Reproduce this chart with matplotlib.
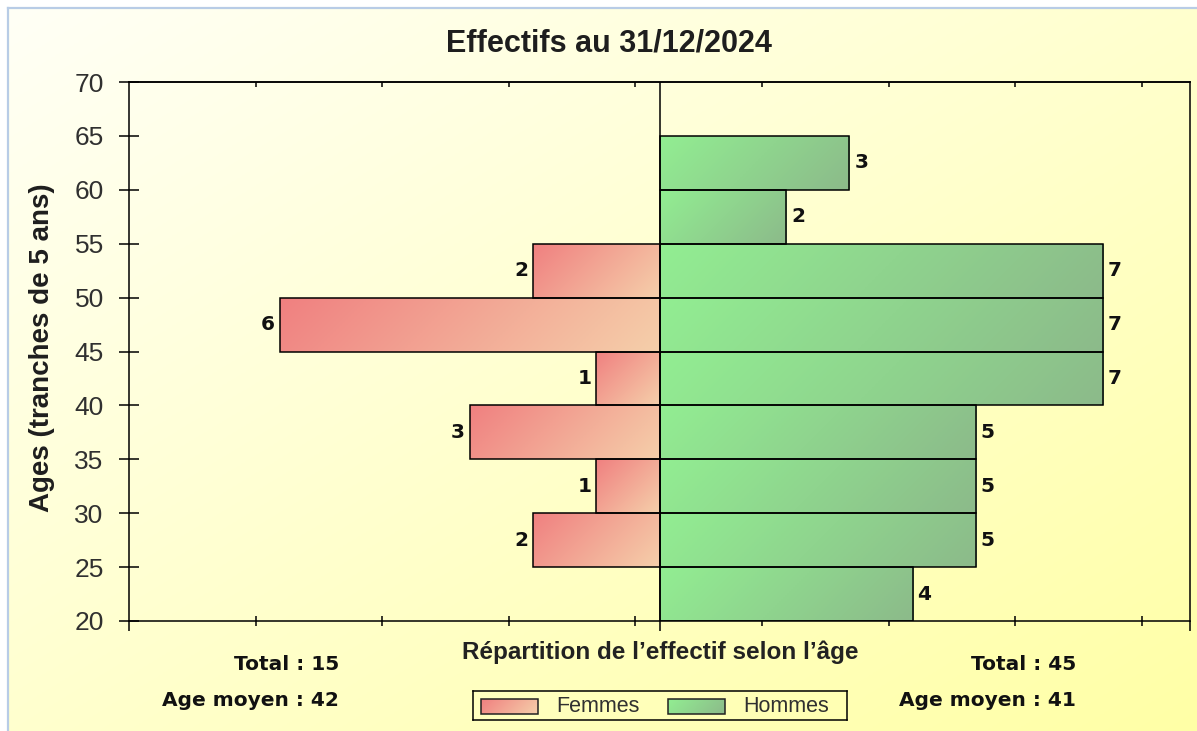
import numpy as np
import matplotlib
matplotlib.use('Agg')
import matplotlib.pyplot as plt
from matplotlib.lines import Line2D
from matplotlib.patches import Rectangle

W, H = 1197, 731

# age groups (start of each 5-year band) and counts
age_starts = [20, 25, 30, 35, 40, 45, 50, 55, 60]
femmes = [0, 2, 1, 3, 1, 6, 2, 0, 0]
hommes = [4, 5, 5, 5, 7, 7, 7, 2, 3]
age_moyen_f = 42
age_moyen_h = 41
y_ticks = [20, 25, 30, 35, 40, 45, 50, 55, 60, 65, 70]

FEM_C0, FEM_C1 = '#F08080', '#F5CFAA'
HOM_C0, HOM_C1 = '#92EE92', '#8CBA8A'
ARIAL = 'Liberation Sans'
TAHOMA = 'DejaVu Sans'


def fx(px):
    return px / W


def fy(py):
    return 1 - py / H


def gradient(c0, c1, wpx=1.0, hpx=1.0, n=64):
    # 45 degree gradient in pixel space, top-left -> bottom-right
    c0 = np.array(matplotlib.colors.to_rgb(c0))
    c1 = np.array(matplotlib.colors.to_rgb(c1))
    u = np.linspace(0, 1, n)
    t = (u[None, :] * wpx + u[:, None] * hpx) / (wpx + hpx)
    return c0 * (1 - t[..., None]) + c1 * t[..., None]


fig = plt.figure(figsize=(W / 100, H / 100), dpi=100)
fig.patch.set_facecolor('white')

# background gradient
bg = fig.add_axes([fx(9), 0, 1 - fx(9), fy(9)])
bg.imshow(gradient('#FFFFF6', '#FFFFA6', n=256), aspect='auto', extent=[0, 1, 0, 1], origin='upper')
bg.set_axis_off()
fig.add_artist(Line2D([fx(8), fx(8)], [0, fy(8)], color='#B8CCE6', lw=1.6))
fig.add_artist(Line2D([fx(8), 1], [fy(8), fy(8)], color='#B8CCE6', lw=1.6))

ax = fig.add_axes([fx(129), fy(621), fx(1190) - fx(129), fy(82) - fy(621)])
ax.set_facecolor('none')

L = 8.38
px_x = (1190 - 129) / (2 * L)
px_y = (621 - 82) / 50
bars_f = ax.barh(age_starts, [-v for v in femmes], height=5, align='edge',
                 facecolor='none', edgecolor='black', linewidth=1.1, zorder=3)
bars_h = ax.barh(age_starts, hommes, height=5, align='edge',
                 facecolor='none', edgecolor='black', linewidth=1.1, zorder=3)

for bars, vals, c0, c1, side in [(bars_f, femmes, FEM_C0, FEM_C1, -1),
                                 (bars_h, hommes, HOM_C0, HOM_C1, 1)]:
    for p, v in zip(bars, vals):
        if v == 0:
            p.set_visible(False)
            continue
        x0 = min(p.get_x(), p.get_x() + p.get_width())
        x1 = max(p.get_x(), p.get_x() + p.get_width())
        y0, y1 = p.get_y(), p.get_y() + p.get_height()
        g = gradient(c0, c1, (x1 - x0) * px_x, (y1 - y0) * px_y, n=128)
        im = ax.imshow(g, extent=[x0, x1, y0, y1], origin='upper',
                       aspect='auto', zorder=2)
        im.set_clip_path(p)
        ax.annotate(str(v), (side * v, y0 + 2.5), xytext=(side * 3.5, 0),
                    textcoords='offset points', va='center',
                    ha='left' if side > 0 else 'right',
                    fontsize=14.5, fontweight='bold', family=TAHOMA, color='#111111')

ax.axvline(0, color='black', lw=1.1, zorder=4)
ax.set_xlim(-L, L)
ax.set_ylim(20, 70)

xt = [-L + 2 * k for k in range(1, 9)]
ax.set_xticks(xt)
ax.set_xticklabels([])
ax.set_xticks([-L, 0, L], minor=True)
ax.tick_params(axis='x', which='major', direction='inout', length=7.2, width=1.1)
ax.tick_params(axis='x', which='minor', direction='out', length=7.2, width=1.1)
ax.set_yticks(y_ticks)
ax.tick_params(axis='y', which='major', direction='inout', length=14.4, width=1.1,
               pad=11, labelsize=19, labelcolor='#303030')
for lab in ax.get_yticklabels():
    lab.set_family(ARIAL)

top = ax.secondary_xaxis('top')
top.set_xticks(xt)
top.set_xticklabels([])
top.tick_params(direction='in', length=3.6, width=1.1)
top.spines['top'].set_linewidth(1.1)
for s in ax.spines.values():
    s.set_linewidth(1.1)

fig.text(fx(609), fy(43), 'Effectifs au 31/12/2024', ha='center', va='center',
         fontsize=22, fontweight='bold', family=ARIAL, color='#1E1E1E')
fig.text(fx(42), fy(348), 'Ages (tranches de 5 ans)', ha='center', va='center',
         rotation=90, fontsize=20, fontweight='bold', family=ARIAL, color='#1E1E1E')
fig.text(fx(660), fy(652), 'Répartition de l’effectif selon l’âge', ha='center', va='center',
         fontsize=17.5, fontweight='bold', family=ARIAL, color='#222222')

fig.text(fx(339), fy(664), f'Total : {sum(femmes)}', ha='right', va='center',
         fontsize=14.5, fontweight='bold', family=TAHOMA, color='#111111')
fig.text(fx(339), fy(701), f'Age moyen : {age_moyen_f}', ha='right', va='center',
         fontsize=14.5, fontweight='bold', family=TAHOMA, color='#111111')
fig.text(fx(1076), fy(664), f'Total : {sum(hommes)}', ha='right', va='center',
         fontsize=14.5, fontweight='bold', family=TAHOMA, color='#111111')
fig.text(fx(1076), fy(701), f'Age moyen : {age_moyen_h}', ha='right', va='center',
         fontsize=14.5, fontweight='bold', family=TAHOMA, color='#111111')

# legend drawn by hand so the swatches keep the gradient
lg = fig.add_axes([fx(473), fy(720), fx(847) - fx(473), fy(691) - fy(720)])
lg.set_facecolor('none')
lg.set_xticks([])
lg.set_yticks([])
for s in lg.spines.values():
    s.set_linewidth(1.1)
for x0, label, c0, c1 in [(8, 'Femmes', FEM_C0, FEM_C1), (195, 'Hommes', HOM_C0, HOM_C1)]:
    lg.imshow(gradient(c0, c1, 57, 15), extent=[x0, x0 + 57, 23, 8], origin='upper', aspect='auto')
    lg.add_patch(Rectangle((x0, 8), 57, 15, facecolor='none', edgecolor='#222222', lw=1.1))
    lg.text(x0 + 75, 15, label, va='center', ha='left', fontsize=15.5, family=ARIAL, color='#303030')
lg.set_xlim(0, 374)
lg.set_ylim(29, 0)

fig.savefig('out.png', dpi=100)
